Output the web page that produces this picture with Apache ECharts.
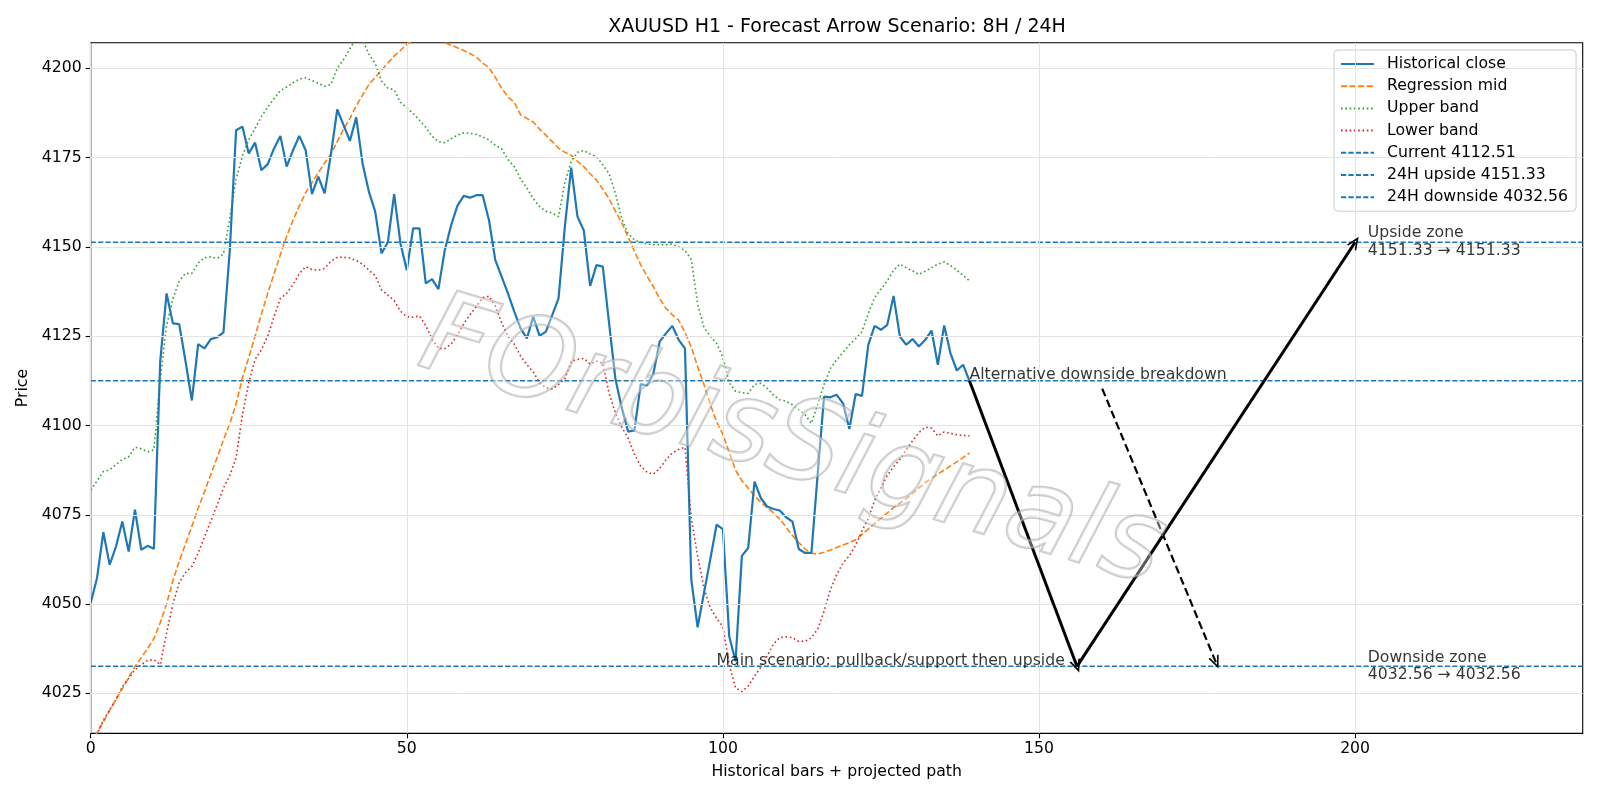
<!DOCTYPE html>
<html lang="en">
<head>
  <meta charset="UTF-8">
  <title>XAUUSD H1 forecast arrows</title>
  <style>
    html, body { margin: 0; padding: 0; background: #fff; }
    #chart { width: 1600px; height: 800px; }
  </style>
</head>
<body>
<div id="chart"></div>
<script src="https://cdn.jsdelivr.net/npm/echarts@6/dist/echarts.min.js"></script>
<script>
  // values, one per hourly bar (index 0..139)
  const closeVals = [
    4050.3, 4057.3, 4070.1, 4061.0, 4066.1, 4073.1, 4064.7, 4076.4, 4065.2, 4066.3,
    4065.5, 4118.0, 4137.0, 4128.6, 4128.4, 4118.0, 4107.0, 4122.8, 4121.6, 4124.2,
    4124.7, 4126.1, 4149.0, 4182.7, 4183.7, 4176.2, 4179.2, 4171.5, 4173.2, 4177.6,
    4181.1, 4172.5, 4177.1, 4181.1, 4177.1, 4164.8, 4169.7, 4165.0, 4176.0, 4188.5,
    4184.1, 4179.7, 4186.3, 4173.4, 4165.5, 4159.9, 4148.2, 4151.3, 4164.8, 4151.0,
    4143.5, 4155.2, 4155.2, 4139.8, 4141.0, 4138.2, 4149.0, 4156.0, 4161.5, 4164.3,
    4163.8, 4164.5, 4164.5, 4157.5, 4146.3, 4141.7, 4137.0, 4131.9, 4127.2, 4124.4,
    4130.5, 4125.1, 4126.3, 4130.9, 4135.6, 4155.7, 4172.2, 4158.5, 4154.6, 4139.1,
    4144.9, 4144.5, 4128.6, 4113.0, 4105.0, 4098.3, 4098.6, 4111.6, 4111.2, 4114.5,
    4123.5, 4125.8, 4127.9, 4124.0, 4121.6, 4056.8, 4043.5, 4053.0, 4062.5, 4072.2,
    4071.0, 4041.0, 4034.0, 4063.5, 4065.7, 4084.3, 4079.7, 4077.3, 4076.6, 4076.2,
    4074.3, 4073.1, 4065.4, 4064.3, 4064.3, 4086.6, 4108.1, 4107.9, 4108.6, 4106.2,
    4099.0, 4108.8, 4108.3, 4122.6, 4127.9, 4126.8, 4128.2, 4136.3, 4124.9, 4122.6,
    4124.2, 4122.1, 4124.0, 4126.6, 4117.0, 4128.0, 4120.2, 4115.4, 4117.0, 4112.51
  ];
  const midVals = [
    4010.8, 4014.0, 4017.0, 4020.2, 4023.3, 4026.3, 4029.4, 4032.5, 4035.0, 4037.6,
    4040.3, 4044.8, 4050.0, 4056.5, 4062.0, 4066.8, 4071.8, 4076.8, 4081.5, 4086.3,
    4091.0, 4096.0, 4100.5, 4106.0, 4113.3, 4119.0, 4125.0, 4131.2, 4137.0, 4142.5,
    4147.8, 4153.0, 4157.5, 4161.5, 4165.2, 4168.0, 4170.8, 4173.5, 4176.0, 4179.5,
    4183.0, 4186.0, 4189.5, 4192.5, 4195.5, 4197.5, 4199.5, 4201.5, 4203.5, 4205.0,
    4206.8, 4207.8, 4208.5, 4209.0, 4208.8, 4208.0, 4207.3, 4206.5, 4205.8, 4205.0,
    4204.2, 4203.2, 4201.5, 4200.2, 4197.5, 4194.5, 4192.0, 4190.5, 4187.0, 4186.0,
    4185.0, 4183.0, 4181.3, 4179.5, 4177.7, 4176.5, 4175.7, 4174.0, 4172.5, 4170.5,
    4168.7, 4166.2, 4163.5, 4160.0, 4156.8, 4152.8, 4148.8, 4145.0, 4141.8, 4138.9,
    4135.5, 4132.8, 4131.0, 4129.5, 4126.0, 4122.0, 4116.5, 4111.5, 4106.0, 4101.0,
    4097.5, 4092.5, 4087.5, 4084.5, 4082.5, 4080.3, 4078.5, 4077.0, 4075.5, 4073.8,
    4071.5, 4069.2, 4067.2, 4065.4, 4064.2, 4064.0, 4064.5, 4065.1, 4065.8, 4066.5,
    4067.2, 4068.0, 4069.5, 4071.0, 4072.5, 4074.0, 4075.5, 4077.0, 4078.3, 4079.5,
    4081.0, 4082.5, 4084.0, 4085.2, 4086.4, 4087.5, 4088.7, 4089.8, 4091.0, 4092.3
  ];
  const upperVals = [
    4081.9, 4084.5, 4087.1, 4087.6, 4089.0, 4090.5, 4091.2, 4093.9, 4093.5, 4092.6,
    4093.2, 4112.8, 4128.0, 4135.5, 4140.5, 4142.6, 4142.6, 4145.5, 4147.0, 4147.2,
    4146.8, 4148.0, 4158.0, 4169.0, 4175.5, 4180.0, 4183.2, 4186.5, 4189.2, 4191.5,
    4193.8, 4194.8, 4196.0, 4197.0, 4197.4, 4196.6, 4195.8, 4195.0, 4195.5, 4200.0,
    4202.5, 4205.5, 4208.5, 4208.0, 4204.0, 4201.4, 4196.5, 4194.5, 4194.0, 4190.5,
    4189.0, 4187.4, 4185.5, 4183.5, 4181.0, 4179.5, 4179.2, 4180.3, 4181.3, 4182.0,
    4181.8, 4181.5, 4180.8, 4180.0, 4178.5, 4177.5, 4174.5, 4172.5, 4169.0, 4166.5,
    4163.5, 4161.3, 4160.0, 4159.5, 4158.5, 4168.0, 4174.0, 4176.5, 4177.0, 4176.0,
    4175.3, 4173.0, 4170.5, 4165.0, 4158.0, 4153.8, 4152.0, 4151.3, 4150.8, 4150.6,
    4150.6, 4150.6, 4150.8, 4150.0, 4149.0, 4146.5, 4134.0, 4127.5, 4125.0, 4123.0,
    4119.0, 4112.0, 4109.6, 4109.2, 4109.0, 4111.5, 4111.8, 4110.4, 4108.5, 4107.2,
    4106.8, 4105.8, 4104.4, 4103.0, 4100.6, 4106.0, 4111.5, 4116.0, 4118.4, 4120.5,
    4122.6, 4124.3, 4126.3, 4131.4, 4135.8, 4138.2, 4140.5, 4143.5, 4145.2, 4144.2,
    4143.3, 4142.3, 4143.2, 4144.2, 4145.2, 4145.8, 4144.8, 4143.5, 4142.0, 4140.5
  ];
  const lowerVals = [
    4010.0, 4013.5, 4017.5, 4020.4, 4023.2, 4026.8, 4029.2, 4031.6, 4033.0, 4034.2,
    4034.4, 4033.0, 4041.9, 4050.0, 4056.0, 4058.8, 4060.5, 4064.3, 4068.8, 4073.2,
    4077.8, 4082.5, 4086.0, 4091.0, 4103.0, 4112.0, 4118.5, 4121.2, 4125.0, 4130.5,
    4135.6, 4137.0, 4139.5, 4142.5, 4144.5, 4143.7, 4143.5, 4144.0, 4146.0, 4147.1,
    4147.1, 4146.9, 4146.2, 4145.2, 4143.5, 4142.0, 4138.0, 4136.5, 4135.0, 4132.0,
    4130.5, 4130.3, 4130.7, 4128.0, 4124.2, 4121.6, 4121.5, 4122.8, 4125.3, 4128.5,
    4131.0, 4133.3, 4135.8, 4136.2, 4133.5, 4128.8, 4125.0, 4122.8, 4119.5, 4117.0,
    4115.0, 4112.0, 4110.6, 4110.2, 4111.5, 4113.0, 4118.0, 4118.5, 4118.8, 4117.2,
    4118.0, 4117.5, 4109.0, 4103.5, 4099.5, 4096.5, 4092.0, 4088.6, 4086.9, 4086.4,
    4088.0, 4090.4, 4092.3, 4093.3, 4093.9, 4074.0, 4063.5, 4054.5, 4049.0, 4046.0,
    4043.7, 4033.0, 4026.5, 4025.5, 4027.0, 4029.8, 4032.3, 4035.5, 4038.8, 4040.6,
    4040.8, 4040.6, 4039.5, 4039.6, 4040.5, 4043.0, 4048.0, 4054.0, 4058.2, 4061.5,
    4063.5, 4066.5, 4070.5, 4074.0, 4079.0, 4082.5, 4086.0, 4088.5, 4090.5, 4093.2,
    4095.7, 4098.0, 4099.5, 4099.3, 4097.1, 4098.2, 4097.8, 4097.4, 4097.2, 4097.1
  ];

  const currentLevel = 4112.51;
  const upsideLevel = 4151.33;
  const downsideLevel = 4032.56;

  const xTicks = [0, 50, 100, 150, 200];
  const yTicks = [4025, 4050, 4075, 4100, 4125, 4150, 4175, 4200];
  const xRange = [0, 236];
  const yRange = [4013.8, 4207.2];

  // projected paths (bar index, price)
  const mainPath = [[139, 4112.51], [156, 4032.56], [200, 4151.33]];
  const altPath = [[160, 4110.3], [178, 4033.6]];

  const noteTexts = [
    'Alternative downside breakdown',
    'Main scenario: pullback/support then upside',
    'Upside zone\n4151.33 \u2192 4151.33',
    'Downside zone\n4032.56 \u2192 4032.56'
  ];
  const notePoints = [[139, currentLevel], [99, downsideLevel], [202, upsideLevel], [202, downsideLevel]];

  const FONT = '"DejaVu Sans", "Liberation Sans", sans-serif';
  const FS = 15.7;
  const BLUE = '#1f77b4';
  // open "->" head, drawn pointing up; markLine turns it along the line
  const HEAD = 'path://M0,10 L5,0 L10,10 L8.4,10 L5,3.2 L1.6,10 Z';

  const toXY = (vals) => vals.map((v, i) => [i, v]);
  const levelLine = (v) => [[xRange[0], v], [xRange[1], v]];

  const chart = echarts.init(document.getElementById('chart'), null, {renderer: 'canvas'});

  const gridMarks = yTicks.map(v => ({yAxis: v})).concat(xTicks.map(v => ({xAxis: v})));

  const noteData = notePoints.map((p, i) => {
    const twoLine = i >= 2;
    return {
      value: [p[0], p[1]],
      label: {
        show: true,
        formatter: noteTexts[i],
        position: [0, 0],
        align: 'left',
        verticalAlign: twoLine ? 'middle' : 'bottom',
        offset: twoLine ? [0, 0] : [0, 3],
        lineHeight: 17.6,
        fontSize: FS,
        fontFamily: FONT,
        color: '#000'
      }
    };
  });

  const option = {
    animation: false,
    backgroundColor: '#fff',
    textStyle: {fontFamily: FONT},
    title: {
      text: 'XAUUSD H1 - Forecast Arrow Scenario: 8H / 24H',
      left: 832,
      top: 13,
      textAlign: 'center',
      textStyle: {fontSize: 19, fontWeight: 'normal', color: '#000', fontFamily: FONT}
    },
    grid: {
      left: 90.7, right: 17.3, top: 42.7, bottom: 66.7,
      show: true, borderColor: '#000', borderWidth: 1.1, backgroundColor: 'transparent'
    },
    legend: {
      orient: 'vertical',
      left: 1334,
      top: 50,
      padding: [6, 8, 6, 6],
      itemWidth: 33,
      itemHeight: 14,
      itemGap: 6.2,
      backgroundColor: 'rgba(255,255,255,0.85)',
      borderColor: '#cccccc',
      borderWidth: 1,
      borderRadius: 4,
      itemStyle: {color: 'rgba(0,0,0,0)', borderColor: 'rgba(0,0,0,0)', borderWidth: 0},
      textStyle: {fontSize: FS, lineHeight: 14, color: '#000', fontFamily: FONT, padding: [0, 0, 0, 8]},
      data: ['Historical close', 'Regression mid', 'Upper band', 'Lower band',
        'Current 4112.51', '24H upside 4151.33', '24H downside 4032.56']
    },
    xAxis: {
      type: 'value',
      min: xRange[0],
      max: xRange[1],
      name: 'Historical bars + projected path',
      nameLocation: 'middle',
      nameGap: 31,
      nameTextStyle: {fontSize: FS, color: '#000', fontFamily: FONT},
      axisLine: {show: true, lineStyle: {color: '#000', width: 1.1}},
      axisTick: {show: true, length: 5, lineStyle: {color: '#000', width: 1.1}, customValues: xTicks},
      axisLabel: {
        customValues: xTicks, margin: 8, fontSize: FS, color: '#000', fontFamily: FONT,
        formatter: (v) => String(Math.round(v))
      },
      splitLine: {show: false}
    },
    yAxis: {
      type: 'value',
      min: yRange[0],
      max: yRange[1],
      name: 'Price',
      nameLocation: 'middle',
      nameGap: 52,
      nameTextStyle: {fontSize: FS, color: '#000', fontFamily: FONT},
      axisLine: {show: true, lineStyle: {color: '#000', width: 1.1}},
      axisTick: {show: true, length: 5, lineStyle: {color: '#000', width: 1.1}, customValues: yTicks},
      axisLabel: {
        customValues: yTicks, margin: 9, fontSize: FS, color: '#000', fontFamily: FONT,
        formatter: (v) => String(Math.round(v))
      },
      splitLine: {show: false}
    },
    graphic: [{
      type: 'text',
      x: 792,
      y: 446,
      rotation: -0.29,
      silent: true,
      z: 100,
      style: {
        text: 'FOrbisSignals',
        font: 'italic 113px "DejaVu Sans"',
        textAlign: 'center',
        textVerticalAlign: 'middle',
        fill: 'rgba(255,255,255,0.35)',
        stroke: 'rgba(155,155,155,0.55)',
        lineWidth: 2.4
      }
    }],
    series: [
      {
        name: 'grid',
        type: 'line',
        data: [],
        z: 1,
        silent: true,
        markLine: {
          silent: true,
          symbol: 'none',
          label: {show: false},
          lineStyle: {color: '#e3e3e3', width: 1, type: 'solid'},
          emphasis: {disabled: true},
          data: gridMarks
        }
      },
      {
        name: 'Historical close', type: 'line', data: toXY(closeVals), z: 4,
        symbol: 'none', lineStyle: {color: BLUE, width: 2.2}, itemStyle: {color: BLUE}
      },
      {
        name: 'Regression mid', type: 'line', data: toXY(midVals), z: 3,
        symbol: 'none', lineStyle: {color: '#ff7f0e', width: 1.6, type: [6, 2.6]}, itemStyle: {color: '#ff7f0e'}
      },
      {
        name: 'Upper band', type: 'line', data: toXY(upperVals), z: 3,
        symbol: 'none', lineStyle: {color: '#2ca02c', width: 1.6, type: [1.6, 2.7]}, itemStyle: {color: '#2ca02c'}
      },
      {
        name: 'Lower band', type: 'line', data: toXY(lowerVals), z: 3,
        symbol: 'none', lineStyle: {color: '#d62728', width: 1.6, type: [1.6, 2.7]}, itemStyle: {color: '#d62728'}
      },
      {
        name: 'Current 4112.51', type: 'line', data: levelLine(currentLevel), z: 2,
        symbol: 'none', lineStyle: {color: BLUE, width: 1.4, type: [5.2, 2.2]}, itemStyle: {color: BLUE}
      },
      {
        name: '24H upside 4151.33', type: 'line', data: levelLine(upsideLevel), z: 2,
        symbol: 'none', lineStyle: {color: BLUE, width: 1.4, type: [5.2, 2.2]}, itemStyle: {color: BLUE}
      },
      {
        name: '24H downside 4032.56', type: 'line', data: levelLine(downsideLevel), z: 2,
        symbol: 'none', lineStyle: {color: BLUE, width: 1.4, type: [5.2, 2.2]}, itemStyle: {color: BLUE}
      },
      {
        name: 'notes',
        type: 'scatter',
        data: noteData,
        symbolSize: 0,
        z: 6,
        silent: true,
        markLine: {
          silent: true,
          symbol: ['none', HEAD],
          symbolSize: [11, 13],
          label: {show: false},
          emphasis: {disabled: true},
          lineStyle: {color: '#000', width: 3, type: 'solid'},
          data: [
            [{coord: mainPath[0]}, {coord: mainPath[1]}],
            [{coord: mainPath[1]}, {coord: mainPath[2]}],
            [{coord: altPath[0], lineStyle: {width: 2.2, type: [8, 4]}},
              {coord: altPath[1]}]
          ]
        }
      }
    ]
  };

  chart.setOption(option);
</script>
</body>
</html>
